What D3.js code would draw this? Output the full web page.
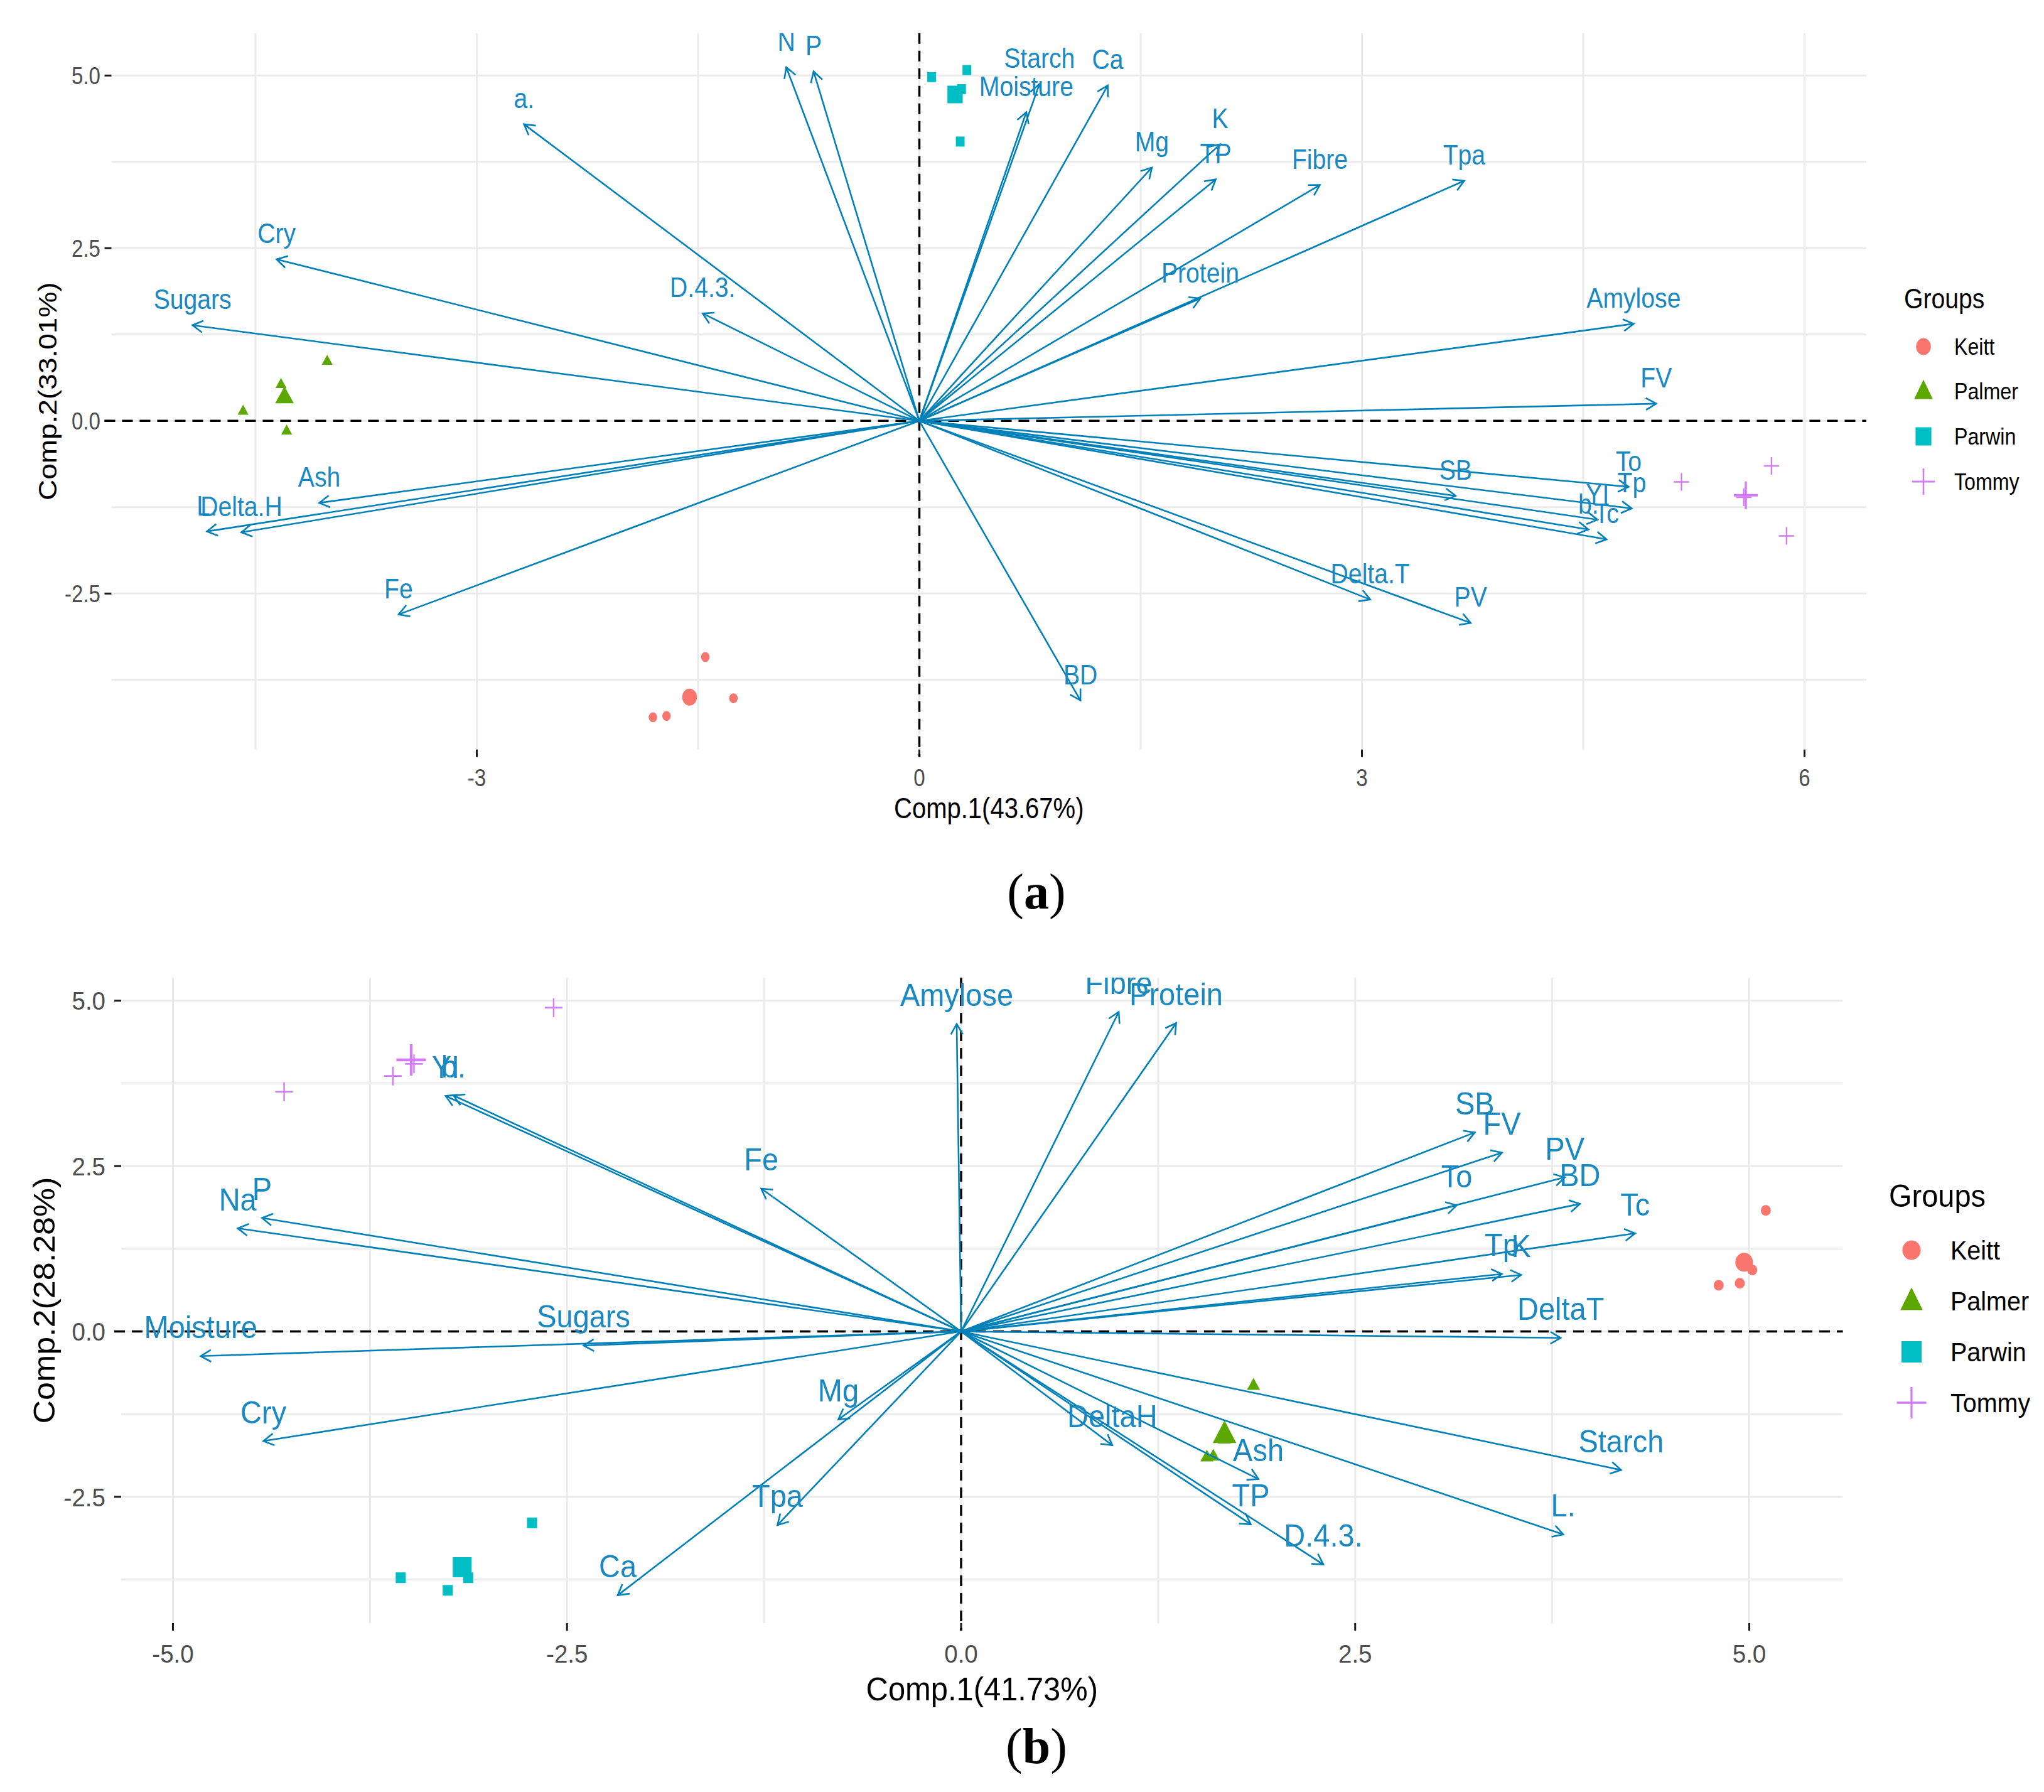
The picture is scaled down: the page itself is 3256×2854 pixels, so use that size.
<!DOCTYPE html>
<html><head><meta charset="utf-8">
<script src="https://cdn.jsdelivr.net/npm/d3@7"></script>
<style>body{margin:0;background:#fff}svg{display:block}</style>
</head><body>
<svg id="chart" width="3256" height="2854"></svg>
<script>
// ---------------- DATA : panel (a) ----------------
const aVarNames = ["N","P","a.","Starch","Ca","Moisture","Mg","K","TP","Fibre","Tpa","Protein","Amylose","FV","D.4.3.","Cry","Sugars","Ash","L.","Delta.H","Fe","BD","SB","To","Tp","YI","b.","Tc","Delta.T","PV"];
const aVarPC1  = [-0.902,-0.717,-2.680,0.814,1.277,0.725,1.576,2.038,2.009,2.715,3.693,1.904,4.842,4.995,-1.469,-4.357,-4.927,-4.068,-4.829,-4.596,-3.530,1.092,3.635,4.808,4.829,4.597,4.535,4.658,3.056,3.737];
const aVarPC2  = [5.120,5.059,4.295,4.876,4.856,4.470,3.667,4.004,3.496,3.415,3.476,1.772,1.406,0.249,1.556,2.339,1.385,-1.187,-1.601,-1.614,-2.803,-4.048,-1.086,-0.955,-1.268,-1.431,-1.573,-1.715,-2.587,-2.925];
const aIndGroup = ["Keitt","Keitt","Keitt","Keitt","Palmer","Palmer","Palmer","Palmer","Parwin","Parwin","Parwin","Parwin","Tommy","Tommy","Tommy","Tommy"];
const aIndPC1 = [-1.451,-1.260,-1.806,-1.714,-4.584,-4.327,-4.014,-4.289,0.083,0.322,0.286,0.277,5.166,5.776,5.878,5.588];
const aIndPC2 = [-3.419,-4.016,-4.292,-4.272,0.148,0.534,0.870,-0.140,4.977,5.079,4.803,4.044,-0.883,-0.652,-1.666,-1.107];
const aXTicks = [-3,0,3,6];
const aXTickLabels = ["-3","0","3","6"];
const aXMinor = [-4.5,-1.5,1.5,4.5];
const aYTicks = [-2.5,0,2.5,5];
const aYTickLabels = ["-2.5","0.0","2.5","5.0"];
const aYMinor = [-3.75,-1.25,1.25,3.75];
const aXTitle = "Comp.1(43.67%)";
const aYTitle = "Comp.2(33.01%)";

// ---------------- DATA : panel (b) ----------------
const bVarNames = ["Amylose","Fibre","Protein","Fe","YI","b.","Na","P","Moisture","Sugars","Cry","Ca","Mg","Tpa","SB","FV","PV","BD","To","Tc","Tp","K","DeltaT","Starch","L.","D.4.3.","DeltaH","Ash","TP"];
const bVarPC1  = [-0.028,1.000,1.364,-1.268,-3.270,-3.220,-4.589,-4.435,-4.824,-2.395,-4.426,-2.178,-0.779,-1.165,3.259,3.431,3.830,3.926,3.144,4.276,3.431,3.553,3.804,4.187,3.820,2.298,0.959,1.886,1.838];
const bVarPC2  = [4.648,4.830,4.661,2.160,3.560,3.567,1.559,1.716,-0.373,-0.213,-1.657,-3.988,-1.331,-2.928,3.008,2.703,2.330,1.928,1.907,1.483,0.869,0.855,-0.098,-2.094,-3.069,-3.522,-1.721,-2.232,-2.916];
const bIndGroup = ["Keitt","Keitt","Keitt","Keitt","Palmer","Palmer","Palmer","Palmer","Parwin","Parwin","Parwin","Parwin","Tommy","Tommy","Tommy","Tommy"];
const bIndPC1 = [5.105,5.019,4.940,4.806,1.855,1.559,1.600,1.670,-2.722,-3.127,-3.555,-3.257,-4.295,-3.605,-3.471,-2.585];
const bIndPC2 = [1.830,0.930,0.728,0.697,-0.810,-1.892,-1.880,-1.622,-2.894,-3.723,-3.723,-3.914,3.623,3.862,4.045,4.894];
const bXTicks = [-5,-2.5,0,2.5,5];
const bXTickLabels = ["-5.0","-2.5","0.0","2.5","5.0"];
const bXMinor = [-3.75,-1.25,1.25,3.75];
const bYTicks = [-2.5,0,2.5,5];
const bYTickLabels = ["-2.5","0.0","2.5","5.0"];
const bYMinor = [-3.75,-1.25,1.25,3.75];
const bXTitle = "Comp.1(41.73%)";
const bYTitle = "Comp.2(28.28%)";

const groups = ["Keitt","Palmer","Parwin","Tommy"];
const groupShapes = ["circle","triangle","square","plus"];
const legendTitle = "Groups";

// ---------------- STYLE ----------------
const groupColors = ["#F8766D","#5DA800","#00BFC4","#D27CF8"];
const arrowColor = "#0080B8";
const labelColor = "#1A89C2";
const FONT = "'Liberation Sans', Arial, sans-serif";

const svg = d3.select("#chart");
const color = d3.scaleOrdinal().domain(groups).range(groupColors);
const shapeOf = d3.scaleOrdinal().domain(groups).range(groupShapes);

function addText(g, x, y, str, o) {
  const rot = o.rotate ? " rotate(-90)" : "";
  return g.append("text")
    .attr("transform", `translate(${x},${y}) scale(${o.sq},1)${rot}`)
    .attr("text-anchor", o.anchor || "start")
    .style("font-family", o.family || FONT)
    .style("font-size", o.size + "px")
    .style("font-weight", o.weight || "normal")
    .style("fill", o.fill || "#000")
    .text(str);
}

function marker(g, x, y, shape, col, s, sq) {
  const m = g.append("g").attr("transform", `translate(${x},${y}) scale(${sq},1)`);
  if (shape === "circle") {
    m.append("circle").attr("r", s.r).attr("fill", col);
  } else if (shape === "triangle") {
    m.append("path").attr("d", `M0,${-s.th*0.6}L${s.tw/2},${s.th*0.4}L${-s.tw/2},${s.th*0.4}Z`).attr("fill", col);
  } else if (shape === "square") {
    m.append("rect").attr("x", -s.sq/2).attr("y", -s.sq/2).attr("width", s.sq).attr("height", s.sq).attr("fill", col);
  } else {
    m.append("path").attr("d", `M${-s.ph},0H${s.ph}M0,${-s.ph}V${s.ph}`).attr("stroke", col).attr("stroke-width", s.pw).attr("fill", "none");
  }
}

function drawPanel(P) {
  const L = P.layout;
  const g = svg.append("g");
  const x = d3.scaleLinear().domain(L.xDomain).range([L.left, L.right]);
  const y = d3.scaleLinear().domain(L.yDomain).range([L.bottom, L.top]);
  const clipId = "clip" + P.tag;
  svg.append("clipPath").attr("id", clipId).append("rect")
    .attr("x", L.left).attr("y", L.top).attr("width", L.right - L.left).attr("height", L.bottom - L.top);

  // grid
  const grid = g.append("g").attr("stroke", "#EBEBEB").attr("stroke-width", 3);
  P.xTicks.concat(P.xMinor).forEach(v => grid.append("line").attr("x1", x(v)).attr("x2", x(v)).attr("y1", L.top).attr("y2", L.bottom));
  P.yTicks.concat(P.yMinor).forEach(v => grid.append("line").attr("y1", y(v)).attr("y2", y(v)).attr("x1", L.left).attr("x2", L.right));

  // ticks
  const tk = g.append("g").attr("stroke", "#1a1a1a").attr("stroke-width", 3);
  P.xTicks.forEach(v => tk.append("line").attr("x1", x(v)).attr("x2", x(v)).attr("y1", L.bottom).attr("y2", L.bottom + 12));
  P.yTicks.forEach(v => tk.append("line").attr("y1", y(v)).attr("y2", y(v)).attr("x1", L.left - 11).attr("x2", L.left));
  P.xTicks.forEach((v, i) => addText(g, x(v), L.xTickBase, P.xTickLabels[i], {sq: L.sq, size: L.tickSize, anchor: "middle", fill: "#4D4D4D"}));
  P.yTicks.forEach((v, i) => addText(g, L.yTickRight, y(v) + 0.358 * L.tickSize, P.yTickLabels[i], {sq: L.sq, size: L.tickSize, anchor: "end", fill: "#4D4D4D"}));

  // axis titles
  addText(g, (L.left + L.right) / 2, L.xTitleBase, P.xTitle, {sq: L.sq, size: L.titleSize, anchor: "middle"});
  addText(g, L.yTitleBase, (L.top + L.bottom) / 2, P.yTitle, {sq: L.sq, size: L.titleSize, anchor: "middle", rotate: true});

  // dashed zero lines
  const dz = g.append("g").attr("stroke", "#000").attr("stroke-width", 3.5).attr("stroke-dasharray", "17,11");
  dz.append("line").attr("x1", L.left - 11).attr("x2", L.right).attr("y1", y(0)).attr("y2", y(0));
  dz.append("line").attr("x1", x(0)).attr("x2", x(0)).attr("y1", L.top).attr("y2", L.bottom + 12);

  const inner = g.append("g").attr("clip-path", `url(#${clipId})`);

  // individuals
  P.indGroup.forEach((grp, i) => marker(inner, x(P.indPC1[i]), y(P.indPC2[i]), shapeOf(grp), color(grp), L.small, L.sq));
  // group mean points
  groups.forEach(grp => {
    const idx = P.indGroup.map((d, i) => d === grp ? i : -1).filter(i => i >= 0);
    const mx = d3.mean(idx, i => P.indPC1[i]), my = d3.mean(idx, i => P.indPC2[i]);
    marker(inner, x(mx), y(my), shapeOf(grp), color(grp), L.big, L.sq);
  });

  // variable arrows
  const ar = inner.append("g").attr("stroke", arrowColor).attr("stroke-width", 2.6).attr("fill", "none");
  const x0 = x(0), y0 = y(0), hl = 19, ha = Math.PI / 6;
  P.varNames.forEach((nm, i) => {
    const tx = x(P.varPC1[i]), ty = y(P.varPC2[i]);
    ar.append("line").attr("x1", x0).attr("y1", y0).attr("x2", tx).attr("y2", ty);
    const a = Math.atan2(ty - y0, tx - x0);
    ar.append("path").attr("d",
      `M${tx - hl * Math.cos(a - ha)},${ty - hl * Math.sin(a - ha)}L${tx},${ty}L${tx - hl * Math.cos(a + ha)},${ty - hl * Math.sin(a + ha)}`);
  });
  P.varNames.forEach((nm, i) => {
    addText(inner, x(P.varPC1[i]), y(P.varPC2[i]) - 0.57 * L.labSize, nm, {sq: L.sq, size: L.labSize, anchor: "middle", fill: labelColor});
  });

  // legend
  const lg = svg.append("g");
  addText(lg, L.legTitleX, L.legTitleBase, legendTitle, {sq: L.sq, size: L.legTitleSize});
  groups.forEach((grp, i) => {
    marker(lg, L.legKeyX, L.legKeyY[i], shapeOf(grp), color(grp), L.key, L.sq);
    addText(lg, L.legTextX, L.legKeyY[i] + 0.358 * L.legSize, grp, {sq: L.sq, size: L.legSize});
  });

  // panel tag
  const t = svg.append("text").attr("x", L.tagX).attr("y", L.tagBase).attr("text-anchor", "middle")
    .style("font-family", "'Liberation Serif','Times New Roman',serif").style("font-size", "80px");
  t.append("tspan").text("(");
  t.append("tspan").style("font-weight", "bold").text(P.tag);
  t.append("tspan").text(")");
}

drawPanel({
  tag: "a", varNames: aVarNames, varPC1: aVarPC1, varPC2: aVarPC2,
  indGroup: aIndGroup, indPC1: aIndPC1, indPC2: aIndPC2,
  xTicks: aXTicks, xTickLabels: aXTickLabels, xMinor: aXMinor,
  yTicks: aYTicks, yTickLabels: aYTickLabels, yMinor: aYMinor,
  xTitle: aXTitle, yTitle: aYTitle,
  layout: {
    left: 177.5, right: 2973, top: 52.7, bottom: 1193.7,
    xDomain: [-5.4766, 6.4191], yDomain: [-4.7582, 5.6145],
    sq: 0.87, tickSize: 38, titleSize: 46, labSize: 45,
    xTickBase: 1252, yTickRight: 160, xTitleBase: 1303, yTitleBase: 90,
    small: {r: 7.8, tw: 20, th: 16, sq: 16, ph: 14, pw: 2.6},
    big: {r: 13.5, tw: 34, th: 27, sq: 28, ph: 22, pw: 4},
    key: {r: 13.5, tw: 34, th: 31, sq: 29, ph: 21, pw: 3},
    legTitleX: 3033, legTitleBase: 491, legTitleSize: 45, legSize: 37,
    legKeyX: 3064, legKeyY: [552, 623, 695, 767], legTextX: 3113,
    tagX: 1651, tagBase: 1447
  }
});

drawPanel({
  tag: "b", varNames: bVarNames, varPC1: bVarPC1, varPC2: bVarPC2,
  indGroup: bIndGroup, indPC1: bIndPC1, indPC2: bIndPC2,
  xTicks: bXTicks, xTickLabels: bXTickLabels, xMinor: bXMinor,
  yTicks: bYTicks, yTickLabels: bYTickLabels, yMinor: bYMinor,
  xTitle: bXTitle, yTitle: bYTitle,
  layout: {
    left: 193, right: 2935.6, top: 1557, bottom: 2585,
    xDomain: [-5.3286, 5.5938], yDomain: [-4.4091, 5.3488],
    sq: 0.94, tickSize: 41, titleSize: 52, labSize: 50,
    xTickBase: 2648, yTickRight: 168, xTitleBase: 2708, yTitleBase: 87,
    small: {r: 8.5, tw: 22, th: 19, sq: 17, ph: 15, pw: 2.6},
    big: {r: 15, tw: 40, th: 36, sq: 32, ph: 25, pw: 4.5},
    key: {r: 15.5, tw: 38, th: 36, sq: 34, ph: 25, pw: 3.5},
    legTitleX: 3009, legTitleBase: 1922, legTitleSize: 50, legSize: 42,
    legKeyX: 3045, legKeyY: [1991, 2072, 2153, 2234], legTextX: 3107,
    tagX: 1651, tagBase: 2808
  }
});
</script>
</body></html>
